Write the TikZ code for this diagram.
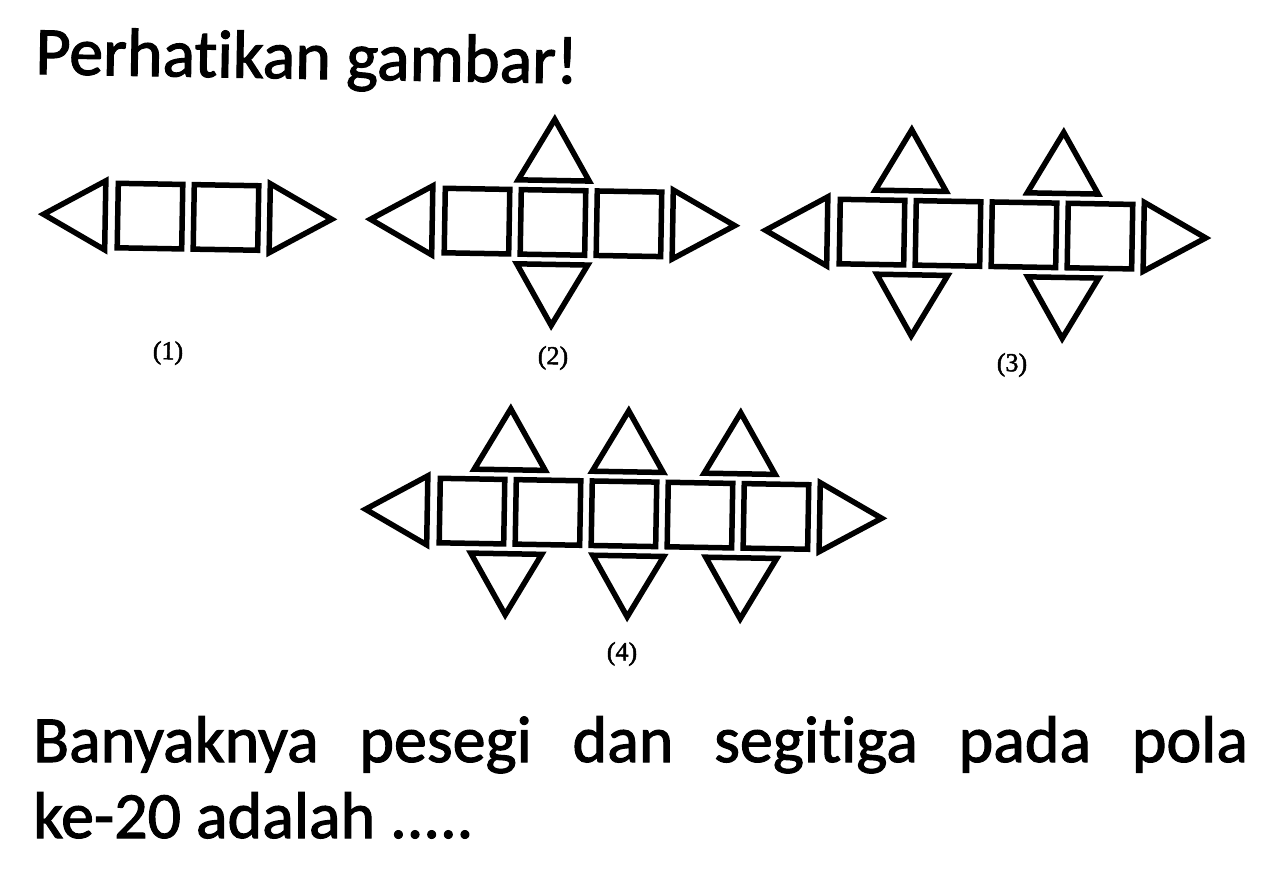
\documentclass[tikz,border=0pt]{standalone}
\usepackage{fontspec}
\setmainfont{Carlito}[RawFeature=-liga, FakeBold=1.6]
\newfontfamily\labelfont{Liberation Serif}[FakeBold=1.8]
\usetikzlibrary{positioning}

\tikzset{
  piece/.style={draw=black, line width=5.5pt, line join=miter, miter limit=10},
  patlabel/.style={font=\labelfont\fontsize{26}{28}\selectfont, inner sep=0pt, rotate=-1},
  bigtext/.style={font=\fontsize{66}{76}\selectfont, inner sep=0pt, anchor=base west}
}

% row of squares with a triangle at each end
\newcommand{\patstrip}[1]{%
  \foreach \i in {1,...,#1}
    \draw[piece] ({(\i-1)*76+2.75},-32.25) rectangle ++(64.5,64.5);
  \draw[piece] (-9.75,-34.5) -- (-71.5,0) -- (-9.75,34.5) -- cycle;
  \draw[piece] ({#1*76+2.75},-34.5) -- ++(62,34.5) -- ++(-62,34.5) -- cycle;
}
\newcommand{\toptri}[1]{\draw[piece] ({#1-35.5},-42) -- ({#1+35.5},-42) -- (#1,-103) -- cycle;}
\newcommand{\bottri}[1]{\draw[piece] ({#1-35.5},42) -- ({#1+35.5},42) -- (#1,103) -- cycle;}

\begin{document}
\begin{tikzpicture}[x=1pt,y=-1pt]
  \path[fill=white] (0,0) rectangle (1279,871);
  \useasboundingbox (0,0) rectangle (1279,871);

  \node[bigtext, font=\fontsize{68}{76}\selectfont, rotate=-1] (title) at (35,74) {Perhatikan gambar!};

  % pola 1
  \begin{scope}[shift={(115,215.5)}, rotate=-1]
    \patstrip{2}
  \end{scope}
  % pola 2
  \begin{scope}[shift={(442,220.5)}, rotate=-1]
    \patstrip{3}
    \toptri{111} \bottri{111}
  \end{scope}
  % pola 3
  \begin{scope}[shift={(837,231.5)}, rotate=-1]
    \patstrip{4}
    \toptri{73} \toptri{225}
    \bottri{76} \bottri{227}
  \end{scope}
  % pola 4
  \begin{scope}[shift={(437,510.5)}, rotate=-1]
    \patstrip{5}
    \toptri{72} \toptri{190} \toptri{302}
    \bottri{70} \bottri{192} \bottri{305}
  \end{scope}

  \node[patlabel] (lab1) at (168,353) {(1)};
  \node[patlabel] (lab2) at (553,358) {(2)};
  \node[patlabel] (lab3) at (1012,365) {(3)};
  \node[patlabel] (lab4) at (622,654) {(4)};

  \node[bigtext] (line1) at (33,762) {\makebox[1215pt][s]{Banyaknya pesegi dan segitiga pada pola}};
  \node[bigtext] (line2) at (33,838) {ke-20 adalah .....};
\end{tikzpicture}
\end{document}
